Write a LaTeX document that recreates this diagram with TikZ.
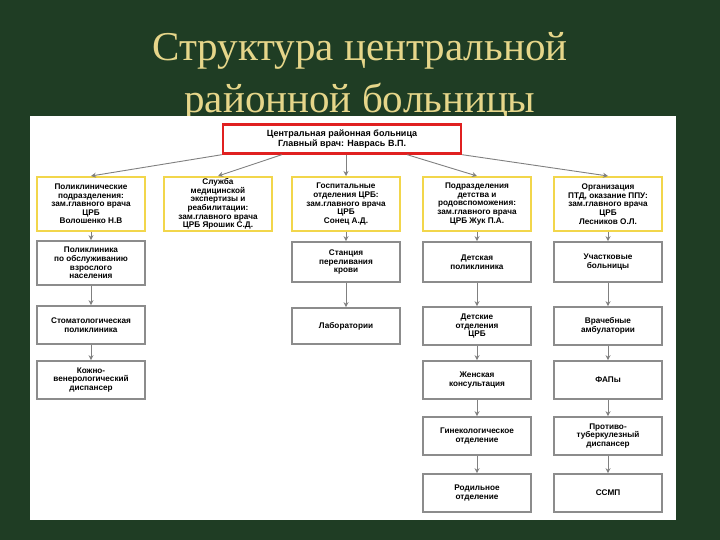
\documentclass[tikz,border=0pt]{standalone}
\usetikzlibrary{arrows.meta}
\usepackage{fontspec}
\setmainfont{Liberation Serif}
\newfontfamily\boxfont{Liberation Sans}
\definecolor{bg}{HTML}{1F3D24}
\definecolor{ttl}{HTML}{E6D68A}
\definecolor{ybox}{HTML}{F2D64B}
\definecolor{gbox}{HTML}{8C8C8C}
\definecolor{redb}{HTML}{E02020}
\begin{document}
\begin{tikzpicture}[x=1pt,y=-1pt,
  bx/.style={draw=gbox,line width=1.6pt,fill=white,minimum width=108pt,minimum height=#1,inner sep=1pt,align=center,font=\boxfont\bfseries\fontsize{8.2}{8.6}\selectfont},
  bx/.default=38pt,
  yb/.style={bx=54pt,draw=ybox,line width=2pt},
  arr/.style={draw=gray,line width=0.9pt,-{Stealth[length=5pt,width=5pt]}}]
\fill[bg] (0,0) rectangle (720,540);
\node[text=ttl,align=center,font=\fontsize{41}{52}\selectfont] (title) at (360,77) {Структура центральной\\районной больницы};
\fill[white] (30,116) rectangle (676,520);
\node[draw=redb,line width=2.4pt,fill=white,minimum width=238pt,minimum height=29pt,align=center,font=\boxfont\bfseries\fontsize{9}{10}\selectfont] (top) at (342,139) {Центральная районная больница\\Главный врач: Наврась В.П.};
\node[yb] (a1) at (91,204) {Поликлинические\\подразделения:\\зам.главного врача\\ЦРБ\\Волошенко Н.В};
\node[yb] (b1) at (218,204) {Служба\\медицинской\\экспертизы и\\реабилитации:\\зам.главного врача\\ЦРБ Ярошик С.Д.};
\node[yb] (c1) at (346,204) {Госпитальные\\отделения ЦРБ:\\зам.главного врача\\ЦРБ\\Сонец А.Д.};
\node[yb] (d1) at (477,204) {Подразделения\\детства и\\родовспоможения:\\зам.главного врача\\ЦРБ Жук П.А.};
\node[yb] (e1) at (608,204) {Организация\\ПТД, оказание ППУ:\\зам.главного врача\\ЦРБ\\Лесников О.Л.};
\node[bx=44pt] (a2) at (91,263) {Поликлиника\\по обслуживанию\\взрослого\\населения};
\node[bx] (a3) at (91,325) {Стоматологическая\\поликлиника};
\node[bx] (a4) at (91,380) {Кожно-\\венерологический\\диспансер};
\node[bx=40pt] (c2) at (346,262) {Станция\\переливания\\крови};
\node[bx=36pt] (c3) at (346,326) {Лаборатории};
\node[bx=40pt] (d2) at (477,262) {Детская\\поликлиника};
\node[bx] (d3) at (477,326) {Детские\\отделения\\ЦРБ};
\node[bx] (d4) at (477,380) {Женская\\консультация};
\node[bx] (d5) at (477,436) {Гинекологическое\\отделение};
\node[bx] (d6) at (477,493) {Родильное\\отделение};
\node[bx=40pt] (e2) at (608,262) {Участковые\\больницы};
\node[bx] (e3) at (608,326) {Врачебные\\амбулатории};
\node[bx] (e4) at (608,380) {ФАПы};
\node[bx] (e5) at (608,436) {Противо-\\туберкулезный\\диспансер};
\node[bx] (e6) at (608,493) {ССМП};
\draw[arr] (top.south west) -- (a1.north);
\draw[arr] ([xshift=60pt]top.south west) -- (b1.north);
\draw[arr] (top.south -| c1) -- (c1.north);
\draw[arr] ([xshift=-55pt]top.south east) -- (d1.north);
\draw[arr] (top.south east) -- (e1.north);
\foreach \u/\v in {a1/a2,a2/a3,a3/a4,c1/c2,c2/c3,d1/d2,d2/d3,d3/d4,d4/d5,d5/d6,e1/e2,e2/e3,e3/e4,e4/e5,e5/e6}
  \draw[arr] (\u.south) -- (\v.north);
\end{tikzpicture}
\end{document}
